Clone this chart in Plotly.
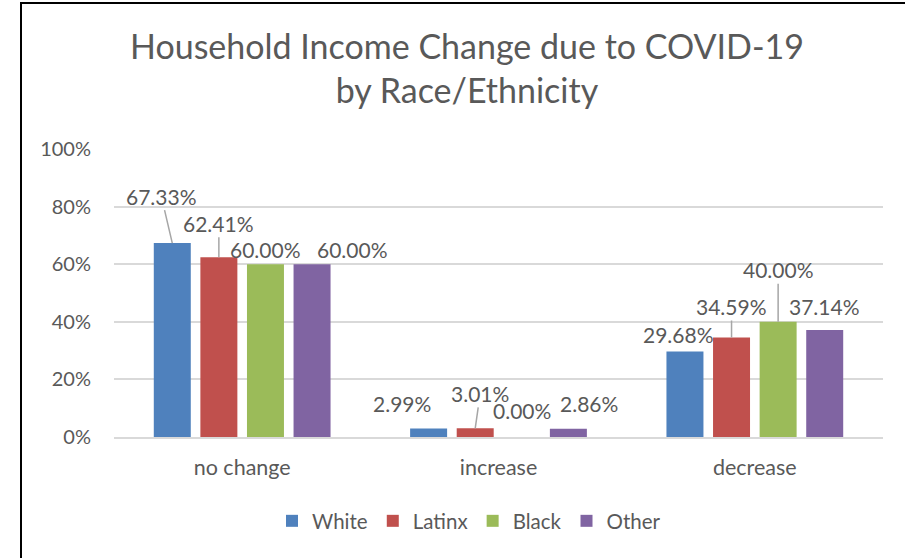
import plotly.graph_objects as go

categories = ["no change", "increase", "decrease"]
series_names = ["White", "Latinx", "Black", "Other"]
white = [0.6733, 0.0299, 0.2968]
latinx = [0.6241, 0.0301, 0.3459]
black = [0.6000, 0.0000, 0.4000]
other = [0.6000, 0.0286, 0.3714]
y_ticks = [0, 0.2, 0.4, 0.6, 0.8, 1.0]

series_values = [white, latinx, black, other]
colors = ["#4F81BD", "#C0504D", "#9BBB59", "#8064A2"]

# label placement (pixel offsets of label centre from bar top centre; leader flag)
label_offsets = {
    ("White", 0): (-11, -47, True), ("Latinx", 0): (0, -34, True),
    ("Black", 0): (0, -15, False), ("Other", 0): (40, -15, False),
    ("White", 1): (-27, -25, False), ("Latinx", 1): (5, -35, True),
    ("Black", 1): (0, -27, False), ("Other", 1): (21, -25, False),
    ("White", 2): (-6, -17.5, False), ("Latinx", 2): (0, -31, True),
    ("Black", 2): (0, -52, True), ("Other", 2): (0, -24, False),
}

TEXT = "#595959"
FONT = "Lato"
bargap = 0.273
bargroupgap = 0.206

fig = go.Figure()
for name, vals, col in zip(series_names, series_values, colors):
    fig.add_trace(go.Bar(name=name, x=categories, y=vals, marker=dict(color=col, line=dict(width=0)),
                         hoverinfo="skip"))

annotations = []
slot = (1 - bargap) / len(series_names)
for si, (name, vals) in enumerate(zip(series_names, series_values)):
    for ci, v in enumerate(vals):
        dx, dy, leader = label_offsets[(name, ci)]
        xpos = ci + (si - (len(series_names) - 1) / 2) * slot
        txt = f"{v*100:.2f}%"
        if leader:
            annotations.append(dict(x=xpos, y=v, xref="x", yref="y", text=txt, showarrow=True,
                                    arrowhead=0, arrowwidth=1.5, arrowcolor="#A6A6A6", standoff=0,
                                    startstandoff=0, ax=dx, ay=dy,
                                    font=dict(family=FONT, size=21, color=TEXT)))
        else:
            annotations.append(dict(x=xpos, y=v, xref="x", yref="y", text=txt, showarrow=False,
                                    xanchor="center", yanchor="middle", xshift=dx, yshift=-dy,
                                    font=dict(family=FONT, size=21, color=TEXT)))

fig.update_layout(
    width=905, height=558,
    margin=dict(l=114, r=22, t=149, b=121),
    paper_bgcolor="white", plot_bgcolor="white",
    barmode="group", bargap=bargap, bargroupgap=bargroupgap,
    title=dict(text="Household Income Change due to COVID-19<br>by Race/Ethnicity",
               x=467 / 905, xanchor="center", xref="container",
               y=1 - 59 / 558, yanchor="top", yref="container",
               font=dict(family=FONT, size=34, color=TEXT)),
    font=dict(family=FONT, color=TEXT),
    xaxis=dict(showgrid=False, showline=True, linecolor="#D9D9D9", linewidth=1.5,
               ticks="", tickfont=dict(family=FONT, size=21.5, color=TEXT), ticklabelstandoff=10),
    yaxis=dict(range=[0, 1], tickvals=y_ticks, tickformat=".0%", showgrid=True,
               gridcolor="#D9D9D9", gridwidth=1.5, zeroline=False, showline=False, ticks="",
               tickfont=dict(family=FONT, size=20, color=TEXT), ticklabelstandoff=22),
    legend=dict(orientation="h", xref="container", yref="container", x=469 / 905, xanchor="center",
                y=1 - 521 / 558, yanchor="middle", font=dict(family=FONT, size=20.5, color=TEXT),
                itemwidth=30, traceorder="normal"),
    annotations=annotations,
    shapes=[dict(type="rect", xref="paper", yref="paper",
                 x0=(21 - 114) / 769, x1=(940 - 114) / 769, y0=-1.0, y1=(437 - 3) / 288,
                 line=dict(color="#000000", width=2), fillcolor="rgba(0,0,0,0)", layer="above")],
)

fig.write_html("out.html", config={"displayModeBar": False},
               post_script="document.body.style.margin='0';document.body.style.overflow='hidden';")
